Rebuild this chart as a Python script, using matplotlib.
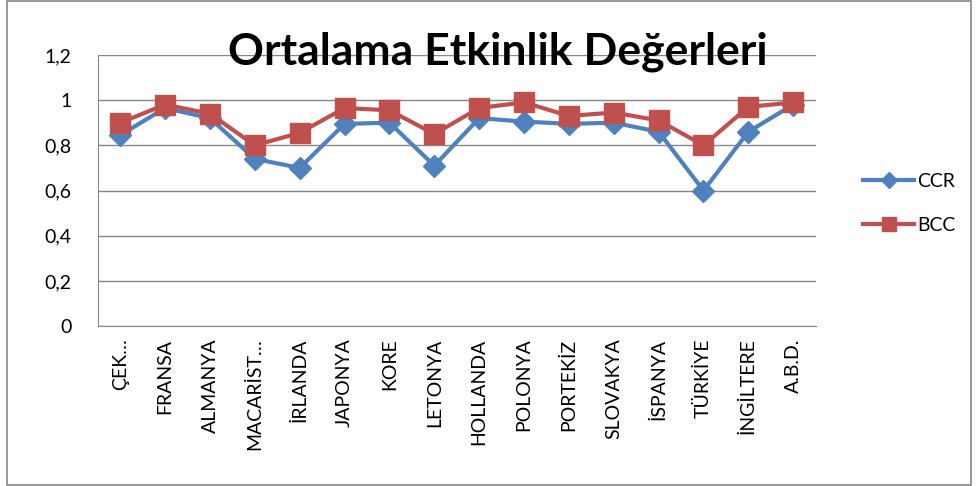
import matplotlib
matplotlib.use('Agg')
import matplotlib.pyplot as plt
from matplotlib.patches import Rectangle
import numpy as np

plt.rcParams['font.family'] = ['Lato', 'DejaVu Sans']

countries = ['ÇEK…', 'FRANSA', 'ALMANYA', 'MACARİST…', 'İRLANDA', 'JAPONYA', 'KORE',
             'LETONYA', 'HOLLANDA', 'POLONYA', 'PORTEKİZ', 'SLOVAKYA', 'İSPANYA',
             'TÜRKİYE', 'İNGİLTERE', 'A.B.D.']
ccr = [0.845, 0.965, 0.92, 0.74, 0.70, 0.895, 0.90, 0.71, 0.92, 0.905, 0.895, 0.90,
       0.86, 0.60, 0.86, 0.98]
bcc = [0.90, 0.98, 0.94, 0.80, 0.855, 0.965, 0.955, 0.85, 0.965, 0.99, 0.93, 0.945,
       0.91, 0.80, 0.97, 0.99]
yticks = [0, 0.2, 0.4, 0.6, 0.8, 1.0, 1.2]
ytick_labels = ['0', '0,2', '0,4', '0,6', '0,8', '1', '1,2']

fig = plt.figure(figsize=(9.78, 4.86), dpi=100)
fig.patches.append(Rectangle((0.0075, 0.003), 0.985, 0.994, transform=fig.transFigure,
                             fill=False, edgecolor='#868686', linewidth=1.2))
ax = fig.add_axes([0.1, 0.329, 0.734, 0.558])

x = np.arange(len(countries))
ax.plot(x, ccr, color='#4F81BD', lw=3, marker='D', ms=11, label='CCR', zorder=3)
ax.plot(x, bcc, color='#C0504D', lw=3, marker='s', ms=14, label='BCC', zorder=4)

ax.set_xlim(-0.5, len(countries) - 0.5)
ax.set_ylim(0, 1.2)
ax.set_yticks(yticks)
ax.set_yticklabels(ytick_labels, fontsize=14)
ax.set_xticks(x)
ax.set_xticklabels(countries, rotation=90, fontsize=14)
ax.tick_params(axis='x', length=0, pad=9)
ax.tick_params(axis='y', length=0, pad=19)
ax.grid(axis='y', color='#868686', lw=1)
ax.set_axisbelow(True)
for s in ['top', 'right']:
    ax.spines[s].set_visible(False)
for s in ['left', 'bottom']:
    ax.spines[s].set_color('#868686')

fig.text(0.509, 0.893, 'Ortalama Etkinlik Değerleri', ha='center', va='center',
         fontsize=32, fontweight='bold')

fig.legend(loc='center left', bbox_to_anchor=(0.865, 0.582), frameon=False, fontsize=14,
           handlelength=2.6, labelspacing=1.4, handletextpad=0.15, markerscale=0.75)

fig.savefig('out.png', dpi=100)
